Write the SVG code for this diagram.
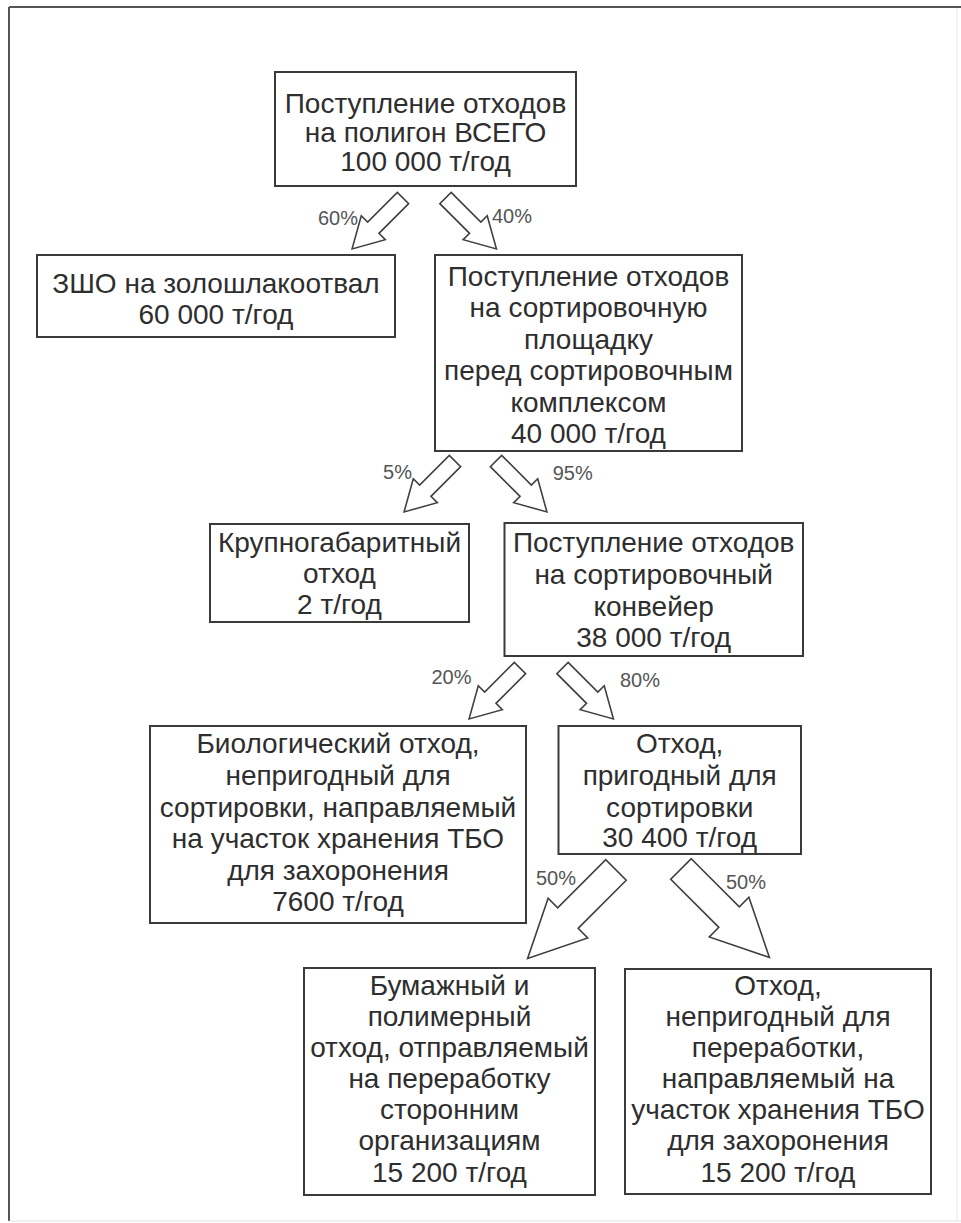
<svg xmlns="http://www.w3.org/2000/svg" width="961" height="1223" viewBox="0 0 961 1223">
<style>
.box{fill:#fff;stroke:#3a3a3a;stroke-width:2}
.t{font-family:"Liberation Sans",Arial,sans-serif;font-size:28px;fill:#2e2e2e;text-anchor:middle}
.pct{font-family:"Liberation Sans",Arial,sans-serif;font-size:20px;fill:#555;text-anchor:middle}
.arr{fill:#fff;stroke:#404040;stroke-width:1.6;stroke-linejoin:miter}
</style>
<defs>
<path id="arrS" d="M0,-8 L42,-8 L42,-17 L72,0 L42,17 L42,8 L0,8 Z"/>
<path id="arrL" d="M0,-14.5 L68,-14.5 L68,-28 L125,0 L68,28 L68,14.5 L0,14.5 Z"/>
</defs>
<rect x="0" y="0" width="961" height="1223" fill="#fff"/>
<g id="frame">
<line x1="9" y1="7" x2="961" y2="7" stroke="#555" stroke-width="2"/>
<line x1="9" y1="7" x2="9" y2="1221" stroke="#555" stroke-width="2"/>
<line x1="9" y1="1221" x2="961" y2="1221" stroke="#e2e2e2" stroke-width="1"/>
<line x1="957" y1="8" x2="957" y2="1221" stroke="#e8e8e8" stroke-width="1"/>
</g>
<g id="connectors">
<use href="#arrS" class="arr" transform="translate(403,198) rotate(135)"/>
<use href="#arrS" class="arr" transform="translate(445.5,198) rotate(45)"/>
<use href="#arrS" class="arr" transform="translate(455,461) rotate(135)"/>
<use href="#arrS" class="arr" transform="translate(496,461) rotate(45)"/>
<use href="#arrS" class="arr" transform="translate(520,668) rotate(135)"/>
<use href="#arrS" class="arr" transform="translate(562.5,668) rotate(45)"/>
<use href="#arrL" class="arr" transform="translate(616,870) rotate(135)"/>
<use href="#arrL" class="arr" transform="translate(681,869) rotate(45)"/>
<text class="pct" x="338" y="225">60%</text>
<text class="pct" x="512" y="223">40%</text>
<text class="pct" x="397.5" y="479">5%</text>
<text class="pct" x="572.7" y="480">95%</text>
<text class="pct" x="451.5" y="684">20%</text>
<text class="pct" x="640" y="687">80%</text>
<text class="pct" x="556" y="885">50%</text>
<text class="pct" x="746" y="889">50%</text>
</g>
<g id="n1">
<rect class="box" x="275" y="72" width="301" height="114"/>
<text class="t"><tspan x="425.5" y="113">Поступление отходов</tspan><tspan x="425.5" y="142">на полигон ВСЕГО</tspan><tspan x="425.5" y="171">100 000 т/год</tspan></text>
</g>
<g id="n2">
<rect class="box" x="37" y="255" width="358" height="82"/>
<text class="t"><tspan x="216" y="293">ЗШО на золошлакоотвал</tspan><tspan x="216" y="324">60 000 т/год</tspan></text>
</g>
<g id="n3">
<rect class="box" x="435" y="255" width="307" height="196"/>
<text class="t"><tspan x="588.5" y="285.5">Поступление отходов</tspan><tspan x="588.5" y="317">на сортировочную</tspan><tspan x="588.5" y="348.5">площадку</tspan><tspan x="588.5" y="380">перед сортировочным</tspan><tspan x="588.5" y="411.5">комплексом</tspan><tspan x="588.5" y="443">40 000 т/год</tspan></text>
</g>
<g id="n4">
<rect class="box" x="210" y="524" width="259" height="98"/>
<text class="t"><tspan x="339.5" y="552">Крупногабаритный</tspan><tspan x="339.5" y="583">отход</tspan><tspan x="339.5" y="614">2 т/год</tspan></text>
</g>
<g id="n5">
<rect class="box" x="504.5" y="523" width="298.5" height="133"/>
<text class="t"><tspan x="653.7" y="552">Поступление отходов</tspan><tspan x="653.7" y="584">на сортировочный</tspan><tspan x="653.7" y="616">конвейер</tspan><tspan x="653.7" y="647">38 000 т/год</tspan></text>
</g>
<g id="n6">
<rect class="box" x="150" y="726" width="376" height="197"/>
<text class="t"><tspan x="338" y="753">Биологический отход,</tspan><tspan x="338" y="785">непригодный для</tspan><tspan x="338" y="816.5">сортировки, направляемый</tspan><tspan x="338" y="848">на участок хранения ТБО</tspan><tspan x="338" y="879.5">для захоронения</tspan><tspan x="338" y="911">7600 т/год</tspan></text>
</g>
<g id="n7">
<rect class="box" x="558.5" y="726" width="242.5" height="128"/>
<text class="t"><tspan x="679.7" y="753">Отход,</tspan><tspan x="679.7" y="785">пригодный для</tspan><tspan x="679.7" y="816.5">сортировки</tspan><tspan x="679.7" y="847">30 400 т/год</tspan></text>
</g>
<g id="n8">
<rect class="box" x="304" y="968" width="291" height="227"/>
<text class="t"><tspan x="449.5" y="995">Бумажный и</tspan><tspan x="449.5" y="1026">полимерный</tspan><tspan x="449.5" y="1057">отход, отправляемый</tspan><tspan x="449.5" y="1088">на переработку</tspan><tspan x="449.5" y="1119">сторонним</tspan><tspan x="449.5" y="1150">организациям</tspan><tspan x="449.5" y="1182">15 200 т/год</tspan></text>
</g>
<g id="n9">
<rect class="box" x="625" y="969" width="306" height="225"/>
<text class="t"><tspan x="778" y="995">Отход,</tspan><tspan x="778" y="1026">непригодный для</tspan><tspan x="778" y="1057">переработки,</tspan><tspan x="778" y="1088">направляемый на</tspan><tspan x="778" y="1119">участок хранения ТБО</tspan><tspan x="778" y="1150">для захоронения</tspan><tspan x="778" y="1182">15 200 т/год</tspan></text>
</g>
</svg>
